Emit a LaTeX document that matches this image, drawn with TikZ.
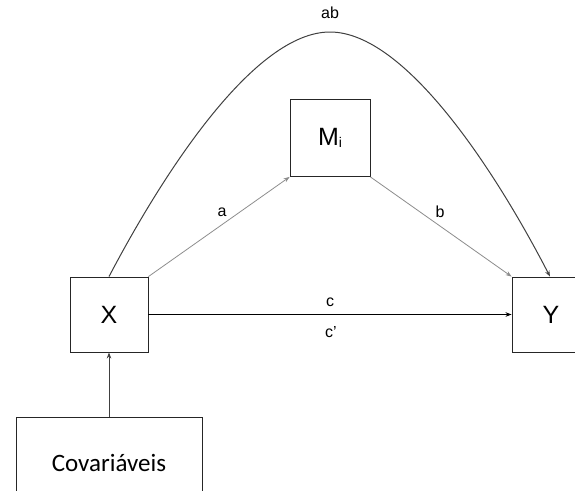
\documentclass[tikz,border=0pt]{standalone}
\usepackage{fontspec}
\setmainfont{Liberation Sans}
\newfontfamily\calib{Carlito}
\usetikzlibrary{arrows.meta}
\definecolor{lgray}{HTML}{8C8C8C}
\definecolor{dgray}{HTML}{404040}
\begin{document}
\begin{tikzpicture}[x=1pt,y=-1pt,
  box/.style={draw=black!85,line width=0.9pt,rectangle,inner sep=0pt},
  lbl/.style={font=\fontsize{16}{16}\selectfont},
  arr/.style={-{Stealth[length=6pt,width=4.5pt]},line width=0.8pt}]
\clip (0,0) rectangle (575,490);
\useasboundingbox (0,0) rectangle (575,490);
\node[box,minimum width=80pt,minimum height=77pt,font=\fontsize{25}{25}\selectfont] (m) at (330,138) {M\raisebox{-0.05em}{\fontsize{14}{14}\selectfont i}};
\node[box,minimum width=78pt,minimum height=75pt,font=\fontsize{25}{25}\selectfont] (x) at (109,314.5) {X};
\node[box,minimum width=78pt,minimum height=75pt,font=\fontsize{25}{25}\selectfont] (y) at (551,314.5) {Y};
\node[box,minimum width=186pt,minimum height=92pt,font=\calib\fontsize{25}{25}\selectfont] (cov) at (109,463) {Covariáveis};
\coordinate (top) at (330,32);
\draw[arr,draw=lgray] (x.north east) -- (m.south west);
\draw[arr,draw=lgray] (m.south east) -- (y.north west);
\draw[arr,draw=black] (x.east) -- (y.west);
\draw[arr,draw=dgray] (cov.north) -- (x.south);
\draw[arr,draw=dgray,line width=1pt] (x.north) .. controls (165,170) and (255,32) .. (top)
  .. controls (405,32) and (495,170) .. ([xshift=-1pt]y.north);
\node[lbl] (lab) at (330,13) {ab};
\node[lbl] (la) at (222,212) {a};
\node[lbl] (lb) at (440,212) {b};
\node[lbl] (lc) at (330,302) {c};
\node[lbl] (lcp) at (331,332) {c’};
\end{tikzpicture}
\end{document}
